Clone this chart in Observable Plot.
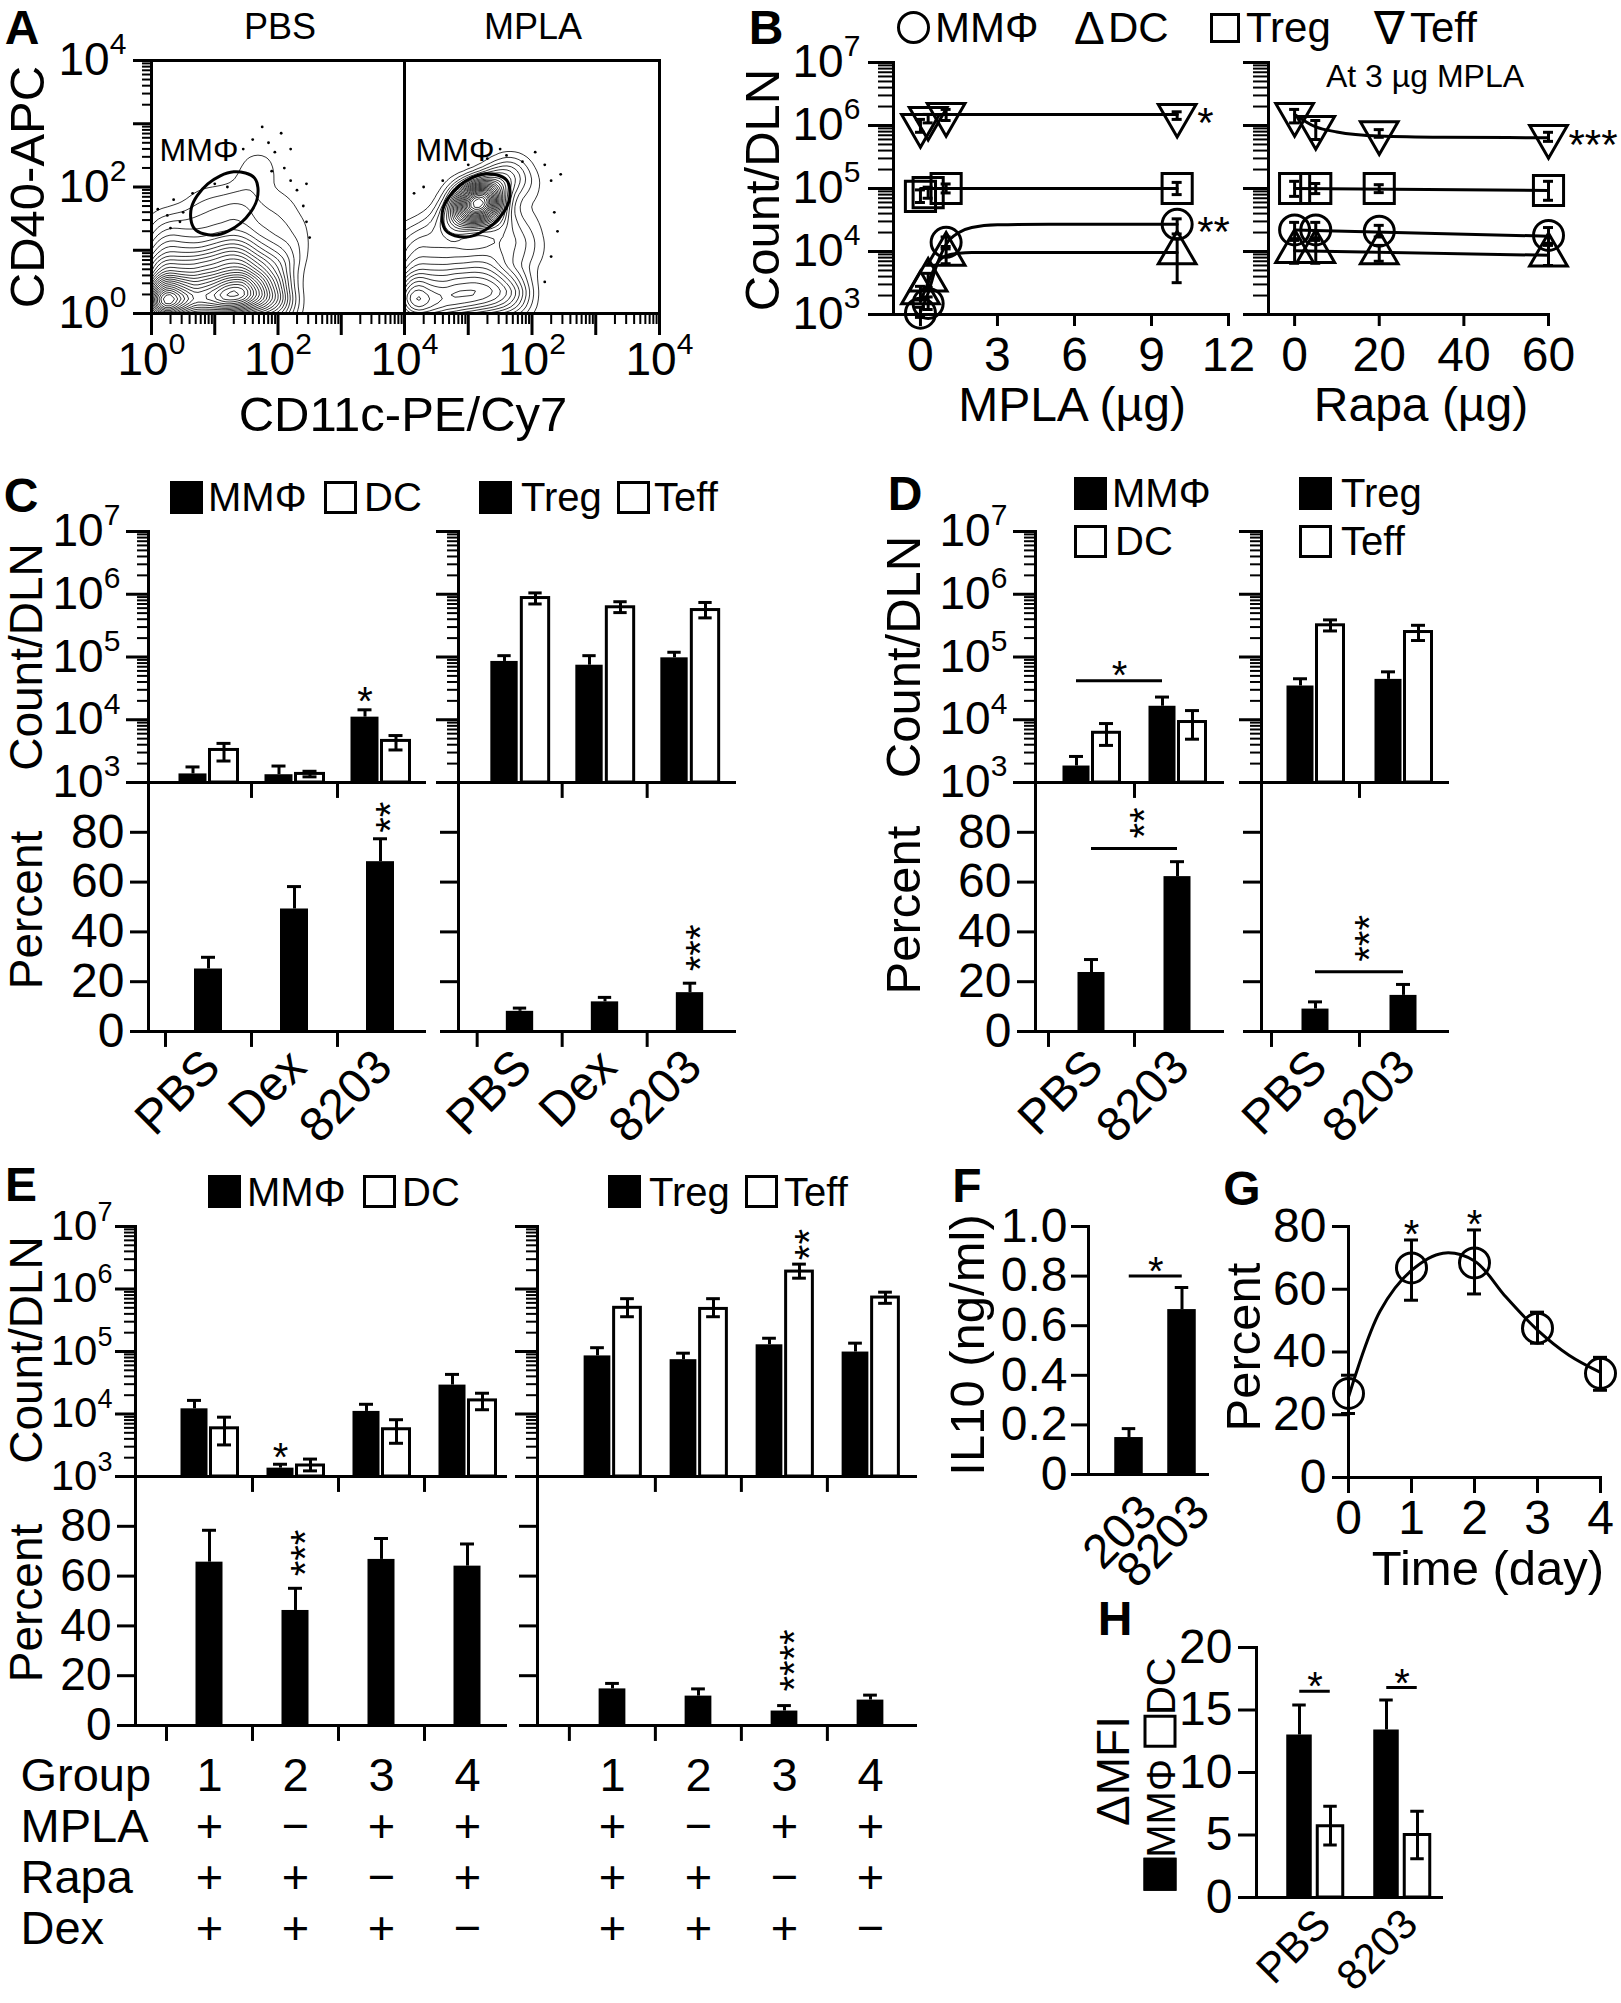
<!DOCTYPE html>
<html>
<head>
<meta charset="utf-8">
<script src="https://cdn.jsdelivr.net/npm/d3@7"></script>
<script src="https://cdn.jsdelivr.net/npm/@observablehq/plot@0.6"></script>
<style>
html,body{margin:0;padding:0;background:#fff;}
#fig{position:relative;width:1621px;height:2003px;overflow:hidden;background:#fff;font-family:"Liberation Sans",Arial,Helvetica,sans-serif;color:#000;}
#fig svg{position:absolute;overflow:visible;background:none;max-width:none;}
.t{position:absolute;line-height:0.75;white-space:nowrap;}
.sq{position:absolute;box-sizing:border-box;border:3px solid #000;}
.isq{display:inline-block;box-sizing:border-box;border:3px solid #000;width:33px;height:33px;vertical-align:-2px;}
</style>
</head>
<body>
<div id="fig"></div>
<script>
// ======================= DATA =======================
// Panel A: flow-cytometry event density (log10 CD11c, log10 CD40, relative weight)
const pbsEvents = [
  [0.1,0.1,10],[0.4,0.1,8],[0.8,0.1,8],[1.2,0.15,9],[1.6,0.15,6],[2.0,0.1,4],
  [0.15,0.35,8],[0.5,0.35,7],[0.9,0.4,7],[1.3,0.4,9],[1.6,0.4,6],[1.95,0.35,4],
  [0.1,0.7,5],[0.5,0.7,5],[0.9,0.75,5],[1.3,0.8,6],[1.65,0.75,4],[2.0,0.7,3],
  [0.15,1.05,3],[0.55,1.05,3],[1.0,1.1,3],[1.4,1.15,3],[1.8,1.1,2],[2.2,1.0,1.5],
  [0.2,1.4,1.5],[0.6,1.45,1.5],[1.0,1.5,1.5],[1.4,1.55,1.5],[1.9,1.5,1.2],[2.3,1.4,0.8],
  [0.8,1.8,0.8],[1.2,1.8,1],[1.6,1.75,0.8],[2.1,1.85,0.6],[1.7,2.3,1.2],[1.55,2.1,0.6]
];
const mplaEvents = [
  [0.1,0.1,8],[0.5,0.1,7],[0.9,0.15,6],[1.3,0.2,6],[1.7,0.2,4],
  [0.1,0.45,6],[0.5,0.5,5],[0.9,0.5,5],[1.3,0.55,5],[1.7,0.5,3],
  [0.1,0.85,3],[0.5,0.9,3],[0.9,0.9,3],[1.3,0.95,3],[1.7,1.0,2],[2.0,1.0,1],
  [0.1,1.2,1.5],[0.4,1.3,1.5],[0.8,1.35,2],[1.5,1.3,2],[1.9,1.4,1.2],
  [1.15,1.75,12],[1.0,1.6,6],[1.3,1.9,6],[0.9,1.8,3],[1.4,1.6,4],[1.5,2.1,3],
  [1.7,2.25,2],[1.9,2.0,1.2],[0.7,1.5,2]
];
const pbsOutliers = [[0.1,1.65],[0.25,1.55],[0.35,1.8],[0.5,1.6],[0.45,1.45],[0.65,1.9],[1.0,2.05],[1.2,2.0],
  [1.45,2.6],[1.6,2.75],[1.75,2.95],[1.85,2.7],[1.95,2.55],[2.05,2.85],[2.1,2.3],[2.2,2.1],[2.3,1.95],
  [2.4,1.7],[2.45,1.45],[2.5,1.2],[2.45,2.05],[1.9,2.25],[0.3,1.35],[2.2,2.6]];
const mplaOutliers = [[0.15,1.9],[0.3,2.0],[1.0,2.35],[1.3,2.45],[1.6,2.5],[1.85,2.4],[2.05,2.55],[2.2,2.35],
  [2.3,2.1],[2.35,1.6],[2.4,1.3],[2.3,0.9],[2.2,0.5],[2.45,2.2],[1.5,2.6],[0.6,2.1]];
const pbsGate = [[1.63,2.14],[1.30,2.24],[0.89,2.05],[0.63,1.67],[0.68,1.34],[1.00,1.24],[1.41,1.43],[1.67,1.81]];
const mplaGate = [[1.60,2.11],[1.27,2.21],[0.86,2.02],[0.60,1.64],[0.65,1.31],[0.97,1.21],[1.38,1.40],[1.64,1.78]];

// Panel B: counts per DLN vs MPLA dose
const mplaDose = [0, 0.3, 1, 10];
const bTeffL = [1.0e6, 1.3e6, 1.5e6, 1.45e6], bTeffLlo = [7.8e5, 1.1e6, 1.2e6, 1.25e6], bTeffLhi = [1.25e6, 1.5e6, 1.8e6, 1.65e6];
const bTregL = [7.5e4, 8.6e4, 1.0e5, 1.0e5], bTregLlo = [6e4, 7e4, 8.5e4, 8e4], bTregLhi = [9.5e4, 1.05e5, 1.18e5, 1.25e5];
const bMMphiL = [1.05e3, 1.5e3, 1.4e4, 2.7e4], bMMphiLlo = [9e2, 1.2e3, 1.1e4, 1.9e4], bMMphiLhi = [1.3e3, 1.9e3, 1.7e4, 3.3e4];
const bDCL = [2.2e3, 3.5e3, 9.0e3, 9.5e3], bDCLlo = [1.7e3, 2.7e3, 6.4e3, 3.2e3], bDCLhi = [2.8e3, 4.5e3, 1.2e4, 1.6e4];
const fitTeffL = [[0,1.5e6],[10,1.5e6]];
const fitTregL = [[0,1.0e5],[10,1.0e5]];
const fitMMphiL = [[0,1.1e3],[0.3,2.2e3],[0.6,5.5e3],[1,1.3e4],[1.5,2.0e4],[2,2.4e4],[3,2.65e4],[5,2.7e4],[10,2.7e4]];
const fitDCL = [[0,1.6e3],[0.3,3.2e3],[0.6,6e3],[1,8.6e3],[1.5,9.4e3],[2,9.6e3],[10,9.6e3]];
// Panel B: counts per DLN vs Rapa dose (at 3 ug MPLA)
const rapaDose = [0, 5, 20, 60];
const bTeffR = [1.5e6, 9.3e5, 7.7e5, 6.7e5], bTeffRlo = [1.1e6, 6e5, 6.5e5, 5.6e5], bTeffRhi = [1.8e6, 1.2e6, 8.6e5, 7.8e5];
const bTregR = [1.0e5, 1.0e5, 1.0e5, 9.3e4], bTregRlo = [7.5e4, 8.3e4, 8.6e4, 6.5e4], bTregRhi = [1.3e5, 1.2e5, 1.15e5, 1.3e5];
const bMMphiR = [2.2e4, 2.2e4, 2.1e4, 1.8e4], bMMphiRlo = [1.6e4, 1.65e4, 1.7e4, 1.35e4], bMMphiRhi = [2.9e4, 2.9e4, 2.6e4, 2.4e4];
const bDCR = [1.0e4, 1.0e4, 9.5e3, 8.8e3], bDCRlo = [6.5e3, 6.5e3, 7e3, 6e3], bDCRhi = [1.5e4, 1.5e4, 1.25e4, 1.25e4];
const fitTeffR = [[0,1.5e6],[5,9.5e5],[10,7.9e5],[20,6.8e5],[35,6.5e5],[60,6.4e5]];
const fitTregR = [[0,1.0e5],[60,9.3e4]];
const fitMMphiR = [[0,2.2e4],[60,1.75e4]];
const fitDCR = [[0,1.03e4],[60,8.7e3]];

// Panel C
const groupsC = ["PBS", "Dex", "8203"];
const cMMphi = [1.37e3, 1.33e3, 1.10e4], cMMphiHi = [1.77e3, 1.83e3, 1.44e4];
const cDC = [3.3e3, 1.37e3, 4.6e3], cDCLo = [2.2e3, 1.23e3, 3.3e3], cDCHi = [4.2e3, 1.51e3, 5.6e3];
const cTreg = [8.5e4, 7.4e4, 9.7e4], cTregHi = [1.05e5, 1.05e5, 1.19e5];
const cTeff = [8.7e5, 6.2e5, 5.6e5], cTeffLo = [7.0e5, 5.1e5, 4.2e5], cTeffHi = [1.05e6, 7.6e5, 7.4e5];
const cPctMMphi = [25.1, 49.2, 68.2], cPctMMphiHi = [29.8, 58.2, 77.4];
const cPctTreg = [8.1, 11.9, 15.6], cPctTregHi = [9.4, 13.7, 19.4];

// Panel D
const groupsD = ["PBS", "8203"];
const dMMphi = [1.83e3, 1.64e4], dMMphiHi = [2.6e3, 2.3e4];
const dDC = [6.2e3, 9.2e3], dDCLo = [3.9e3, 4.9e3], dDCHi = [8.7e3, 1.4e4];
const dTreg = [3.45e4, 4.4e4], dTregHi = [4.5e4, 5.8e4];
const dTeff = [3.2e5, 2.5e5], dTeffLo = [2.6e5, 1.83e5], dTeffHi = [3.9e5, 3.2e5];
const dPctMMphi = [23.7, 62.2], dPctMMphiHi = [28.9, 68.2];
const dPctTreg = [9.0, 14.5], dPctTregHi = [11.9, 18.9];

// Panel E
const groupsE = ["1", "2", "3", "4"];
const eMMphi = [1.21e4, 1.36e3, 1.10e4, 2.9e4], eMMphiHi = [1.65e4, 1.57e3, 1.43e4, 4.3e4];
const eDC = [5.9e3, 1.5e3, 5.7e3, 1.65e4], eDCLo = [3.2e3, 1.23e3, 3.4e3, 1.17e4], eDCHi = [8.9e3, 1.9e3, 8.1e3, 2.15e4];
const eTreg = [8.5e4, 7.4e4, 1.28e5, 9.8e4], eTregHi = [1.15e5, 9.4e4, 1.63e5, 1.36e5];
const eTeff = [5.0e5, 4.8e5, 1.9e6, 7.3e5], eTeffLo = [3.6e5, 3.6e5, 1.49e6, 5.9e5], eTeffHi = [7.0e5, 7.0e5, 2.5e6, 8.9e5];
const ePctMMphi = [65.6, 46.2, 66.7, 64.0], ePctMMphiHi = [78.4, 55.1, 75.1, 72.9];
const ePctTreg = [14.7, 11.8, 5.8, 10.2], ePctTregHi = [16.9, 14.7, 8.0, 12.2];
const tableRows = ["Group", "MPLA", "Rapa", "Dex"];
const eMPLA = ["+", "\u2212", "+", "+"];
const eRapa = ["+", "+", "\u2212", "+"];
const eDex = ["+", "+", "+", "\u2212"];

// Panel F
const groupsF = ["203", "8203"];
const fIL10 = [0.149, 0.665], fIL10Hi = [0.185, 0.754];

// Panel G
const gDays = [0, 1, 2, 3, 4];
const gPct = [26.8, 66.8, 68.4, 47.6, 33.2], gLo = [20.4, 56.5, 58.5, 42.8, 27.8], gHi = [32.6, 75.7, 78.9, 52.7, 38.3];
const gFit = [[0,25.6],[0.5,53],[1,66],[1.5,71.5],[2,69],[2.5,57.5],[3,47],[3.5,39],[4,33.5]];

// Panel H
const groupsH = ["PBS", "8203"];
const hMMphi = [13.0, 13.4], hMMphiHi = [15.4, 15.8];
const hDC = [5.7, 5.0], hDCLo = [4.2, 3.1], hDCHi = [7.3, 6.9];

// Tick values
const logMajor = [1e3, 1e4, 1e5, 1e6, 1e7];
const logMinor = [3, 4, 5, 6].flatMap(e => [2, 3, 4, 5, 6, 7, 8, 9].map(k => k * 10 ** e));
const decA = [0, 1, 2, 3, 4];
const minorA = [0, 1, 2, 3].flatMap(e => [2, 3, 4, 5, 6, 7, 8, 9].map(k => e + Math.log10(k)));
const pctTicks = [0, 20, 40, 60, 80];

// ======================= HELPERS =======================
const fig = document.getElementById("fig");
const FONT = '"Liberation Sans", Arial, Helvetica, sans-serif';
const SERIF = '"Liberation Serif", "Times New Roman", serif';
const PHI = `<span style="font-family:${SERIF}">\u03A6</span>`;
const none = () => "";
const lg = d => Math.round(Math.log10(d));

function mk([x0, y0, x1, y1], opts) {
  const svg = Plot.plot({
    width: x1 - x0, height: y1 - y0,
    marginLeft: 0, marginRight: 0, marginTop: 0, marginBottom: 0,
    style: {fontFamily: FONT, fontSize: "46px", color: "black", background: "none", overflow: "visible"},
    ...opts
  });
  svg.style.left = x0 + "px";
  svg.style.top = y0 + "px";
  fig.appendChild(svg);
  return svg;
}
function axY(ticks, size, fmt, o = {}) {
  return Plot.axisY({ticks, tickSize: size, tickPadding: o.pad ?? 8, tickFormat: fmt || none,
    strokeWidth: o.sw ?? 3, fontSize: o.fs ?? 48, label: null});
}
function axX(ticks, size, fmt, o = {}) {
  return Plot.axisX({ticks, tickSize: size, tickPadding: o.pad ?? 8, tickFormat: fmt || none,
    strokeWidth: o.sw ?? 3, fontSize: o.fs ?? 48, label: null});
}
// "10" with raised exponent, right-aligned at `off` px left of the y axis
function powY(ticks, expOf, off, fs = 46, efs = 30) {
  return [
    Plot.text(ticks, {y: d => d, text: () => "10", frameAnchor: "left", textAnchor: "end", lineAnchor: "middle", dx: -(off + efs * 0.56), fontSize: fs}),
    Plot.text(ticks, {y: d => d, text: d => String(expOf(d)), frameAnchor: "left", textAnchor: "end", lineAnchor: "middle", dx: -off, dy: -fs * 0.34, fontSize: efs})
  ];
}
// "10" with raised exponent, centred under x ticks
function powX(ticks, off, fs = 46, efs = 30) {
  const ew = efs * 0.56, half = (fs * 1.112 + ew) / 2;
  return [
    Plot.text(ticks, {x: d => d, text: () => "10", frameAnchor: "bottom", textAnchor: "end", lineAnchor: "middle", dx: half - ew, dy: off, fontSize: fs}),
    Plot.text(ticks, {x: d => d, text: d => String(d), frameAnchor: "bottom", textAnchor: "start", lineAnchor: "middle", dx: half - ew, dy: off - fs * 0.34, fontSize: efs})
  ];
}
function T(html, x, y, {size = 48, weight = "normal", rot = 0, anchor = "middle", family} = {}) {
  const d = document.createElement("div");
  d.className = "t";
  d.innerHTML = html;
  d.style.left = x + "px"; d.style.top = y + "px";
  d.style.fontSize = size + "px"; d.style.fontWeight = weight;
  if (family) d.style.fontFamily = family;
  const tx = anchor === "start" ? "0%" : anchor === "end" ? "-100%" : "-50%";
  d.style.transformOrigin = anchor === "start" ? "0% 50%" : anchor === "end" ? "100% 50%" : "50% 50%";
  d.style.transform = `translate(${tx}, -50%) rotate(${rot}deg)`;
  fig.appendChild(d);
}
function SQ(x, y, filled, s = 33, round = false) {
  const d = document.createElement("div");
  d.className = "sq";
  d.style.left = x + "px"; d.style.top = y + "px"; d.style.width = s + "px"; d.style.height = s + "px";
  d.style.background = filled ? "#000" : "#fff";
  if (round) d.style.borderRadius = "50%";
  fig.appendChild(d);
}
const starH = (rows, o) => Plot.text(rows, {text: "s", fontSize: 40, lineAnchor: "bottom", dy: 5, ...o});
const starV = (rows, o) => Plot.text(rows, {text: "s", fontSize: 40, rotate: -90, textAnchor: "start", lineAnchor: "middle", ...o, dx: (o.dx ?? 0) + 11});

const LOGY = {type: "log", domain: [1e3, 1e7]};
const PCTY = {domain: [0, 100]};

// grouped black/white bars
function grouped({frame, band, groups, y, major, minor, fmt, kv, kHi, wv, wLo, wHi, bw = 28, gap = 1.5, extra, majorSize = 22, pad = 6, efs = 30, fs = 46}) {
  const x0 = frame[0];
  const step = (band[1] - band[0]) / groups.length;
  const base = y.type === "log" ? y.domain[0] : 0;
  const rows = groups.map((g, i) => ({g, k: kv[i], kHi: kHi[i], w: wv[i], wLo: wLo[i], wHi: wHi[i]}));
  const kc = -(bw / 2 + gap), wc = bw / 2 + gap;
  const cap = c => ({insetLeft: step / 2 + c - 7, insetRight: step / 2 - c - 7});
  const marks = [
    Plot.barY(rows, {x: "g", y1: base, y2: "k", fill: "black", insetLeft: step / 2 - bw - gap, insetRight: step / 2 + gap}),
    Plot.barY(rows, {x: "g", y1: base, y2: "w", fill: "white", stroke: "black", strokeWidth: 3, insetLeft: step / 2 + gap, insetRight: step / 2 - bw - gap}),
    Plot.ruleX(rows, {x: "g", y1: "k", y2: "kHi", dx: kc, strokeWidth: 3}),
    Plot.tickY(rows, {x: "g", y: "kHi", strokeWidth: 3, ...cap(kc)}),
    Plot.ruleX(rows, {x: "g", y1: "wLo", y2: "wHi", dx: wc, strokeWidth: 3}),
    Plot.tickY(rows, {x: "g", y: "wHi", strokeWidth: 3, ...cap(wc)}),
    Plot.tickY(rows, {x: "g", y: "wLo", strokeWidth: 3, ...cap(wc)})
  ];
  if (minor) marks.push(axY(minor, 11, none, {sw: 2}));
  if (fmt === "pow") {
    marks.push(axY(major, majorSize, none), ...powY(major, lg, majorSize + pad, fs, efs));
  } else {
    marks.push(axY(major, majorSize, fmt, {pad}));
  }
  marks.push(Plot.frame({anchor: "left", strokeWidth: 3}), Plot.frame({anchor: "bottom", strokeWidth: 3}));
  if (extra) marks.push(...extra(step, kc, wc));
  return mk(frame, {
    x: {type: "band", domain: groups, range: [band[0] - x0, band[1] - x0], padding: 0, axis: null, label: null},
    y: {...y, label: null},
    marks
  });
}
// single black bars (percent etc.)
function single({frame, band, groups, y = PCTY, ticks = pctTicks, fmt, v, vHi, bw = 28, xLabels = false, topTicks = true, bottomTicks = true, extra, tickSize = 18, pad = 6, tickUnits = 6.4, xl = {}, fs = 48}) {
  const x0 = frame[0];
  const step = (band[1] - band[0]) / groups.length;
  const rows = groups.map((g, i) => ({g, v: v[i], hi: vHi[i]}));
  const top = y.domain[1];
  const marks = [
    Plot.barY(rows, {x: "g", y: "v", fill: "black", insetLeft: step / 2 - bw / 2, insetRight: step / 2 - bw / 2}),
    Plot.ruleX(rows, {x: "g", y1: "v", y2: "hi", strokeWidth: 3}),
    Plot.tickY(rows, {x: "g", y: "hi", strokeWidth: 3, insetLeft: step / 2 - 7, insetRight: step / 2 - 7}),
    axY(ticks, tickSize, fmt, {pad, fs}),
    Plot.frame({anchor: "left", strokeWidth: 3}),
    Plot.frame({anchor: "bottom", strokeWidth: 3})
  ];
  if (bottomTicks) marks.push(Plot.ruleX(groups, {x: d => d, dx: -step / 2, y1: 0, y2: -tickUnits, strokeWidth: 3}));
  if (topTicks) marks.push(Plot.ruleX(groups.slice(1), {x: d => d, dx: -step / 2, y1: top, y2: top - tickUnits, strokeWidth: 3}));
  if (xLabels) marks.push(Plot.text(groups, {x: d => d, text: d => d, frameAnchor: "bottom", rotate: -45,
    textAnchor: "end", lineAnchor: "top", dx: xl.dx ?? -10, dy: xl.dy ?? 14, fontSize: xl.fs ?? 48}));
  if (extra) marks.push(...extra(step));
  return mk(frame, {
    x: {type: "band", domain: groups, range: [band[0] - x0, band[1] - x0], padding: 0, axis: null, label: null},
    y: {...y, label: null},
    marks
  });
}

// ======================= PANEL A =======================
function flowPanel(frame, events, outliers, gate, labelTicks, showY) {
  const marks = [
    Plot.density(events, {x: d => d[0], y: d => d[1], weight: d => d[2], bandwidth: 11, thresholds: 26, stroke: "black", strokeWidth: 0.8, clip: true}),
    Plot.dot(outliers, {x: d => d[0], y: d => d[1], r: 1.4, fill: "black"}),
    Plot.line(gate, {x: d => d[0], y: d => d[1], curve: "catmull-rom-closed", stroke: "black", strokeWidth: 3}),
    Plot.frame({strokeWidth: 3}),
    axX(minorA, 11, none, {sw: 2}),
    axX(decA, 22, none),
    ...powX(labelTicks, 47)
  ];
  if (showY) marks.push(axY(minorA, 9, none, {sw: 2}), axY(decA, 18, none), ...powY([0, 2, 4], d => d, 25));
  return mk(frame, {x: {domain: [0, 4], label: null}, y: {domain: [0, 4], label: null, axis: showY ? undefined : null}, marks});
}
flowPanel([151, 60, 404, 313], pbsEvents, pbsOutliers, pbsGate, [0, 2, 4], true);
flowPanel([404, 60, 659, 313], mplaEvents, mplaOutliers, mplaGate, [2, 4], false);
T("A", 22, 28, {weight: "bold"});
T("PBS", 280, 26, {size: 36});
T("MPLA", 533, 26, {size: 36});
T("CD40-APC", 27, 187, {rot: -90, size: 49});
T("CD11c-PE/Cy7", 403, 414, {size: 49});
T("MM" + PHI, 199, 150, {size: 32});
T("MM" + PHI, 455, 150, {size: 32});

// ======================= PANEL B =======================
const triDown = {draw(ctx, size) {
  const y = -Math.sqrt(size / (Math.sqrt(3) * 3));
  ctx.moveTo(0, -y * 2); ctx.lineTo(-Math.sqrt(3) * y, y); ctx.lineTo(Math.sqrt(3) * y, y); ctx.closePath();
}};
function seriesMarks(xs, m, lo, hi, fit, symbol, r) {
  const rows = xs.map((x, i) => ({x, m: m[i], lo: lo[i], hi: hi[i]}));
  return [
    Plot.line(fit, {x: d => d[0], y: d => d[1], curve: "monotone-x", strokeWidth: 3}),
    Plot.ruleX(rows, {x: "x", y1: "lo", y2: "hi", strokeWidth: 3}),
    Plot.ruleY(rows, {y: "lo", x1: "x", x2: "x", insetLeft: -5, insetRight: -5, strokeWidth: 3}),
    Plot.ruleY(rows, {y: "hi", x1: "x", x2: "x", insetLeft: -5, insetRight: -5, strokeWidth: 3}),
    Plot.dot(rows, {x: "x", y: "m", symbol, r, stroke: "black", strokeWidth: 3, fill: "none"})
  ];
}
mk([893, 62, 1228, 314], {
  x: {domain: [-1.05, 12], label: null}, y: {...LOGY, label: null},
  marks: [
    ...seriesMarks(mplaDose, bTeffL, bTeffLlo, bTeffLhi, fitTeffL, triDown, 14),
    ...seriesMarks(mplaDose, bTregL, bTregLlo, bTregLhi, fitTregL, "square", 17),
    ...seriesMarks(mplaDose, bMMphiL, bMMphiLlo, bMMphiLhi, fitMMphiL, "circle", 15),
    ...seriesMarks(mplaDose, bDCL, bDCLlo, bDCLhi, fitDCL, "triangle", 14),
    Plot.text([{x: 10, y: bTeffL[3], s: "*"}, {x: 10, y: bMMphiL[3], s: "**"}], {x: "x", y: "y", text: "s", fontSize: 42, textAnchor: "start", dx: 20, dy: 8}),
    axY(logMinor, 15, none, {sw: 2}),
    axY(logMajor, 25, none),
    ...powY(logMajor, lg, 33),
    axX([0, 3, 6, 9, 12], 12, d => d, {pad: 10}),
    Plot.frame({anchor: "left", strokeWidth: 3}), Plot.frame({anchor: "bottom", strokeWidth: 3})
  ]
});
mk([1268, 62, 1548, 314], {
  x: {domain: [-6.17, 60], label: null}, y: {...LOGY, label: null},
  marks: [
    ...seriesMarks(rapaDose, bTeffR, bTeffRlo, bTeffRhi, fitTeffR, triDown, 14),
    ...seriesMarks(rapaDose, bTregR, bTregRlo, bTregRhi, fitTregR, "square", 17),
    ...seriesMarks(rapaDose, bMMphiR, bMMphiRlo, bMMphiRhi, fitMMphiR, "circle", 15),
    ...seriesMarks(rapaDose, bDCR, bDCRlo, bDCRhi, fitDCR, "triangle", 14),
    Plot.text([{x: 60, y: bTeffR[3], s: "***"}], {x: "x", y: "y", text: "s", fontSize: 42, textAnchor: "start", dx: 20, dy: 9}),
    axY(logMinor, 15, none, {sw: 2}),
    axY(logMajor, 25, none),
    axX([0, 20, 40, 60], 12, d => d, {pad: 10}),
    Plot.frame({anchor: "left", strokeWidth: 3}), Plot.frame({anchor: "bottom", strokeWidth: 3})
  ]
});
T("B", 766, 28, {weight: "bold"});
SQ(897, 11, false, 33, true);
T("MM" + PHI, 935, 28, {size: 42, anchor: "start"});
T("\u0394", 1074, 28, {size: 46, anchor: "start"});
T("DC", 1108, 28, {size: 42, anchor: "start"});
SQ(1210, 13, false, 30);
T("Treg", 1246, 28, {size: 42, anchor: "start"});
T("\u2207", 1374, 28, {size: 46, anchor: "start"});
T("Teff", 1410, 28, {size: 42, anchor: "start"});
T("At 3 \u00B5g MPLA", 1425, 76, {size: 32});
T("Count/DLN", 762, 190, {rot: -90, size: 49});
T("MPLA (\u00B5g)", 1072, 405, {size: 48});
T("Rapa (\u00B5g)", 1421, 405, {size: 48});

// ======================= PANEL C =======================
const bandCL = [165, 423], bandCR = [476, 733];
grouped({frame: [148, 531, 424, 782], band: bandCL, groups: groupsC, y: LOGY, major: logMajor, minor: logMinor, fmt: "pow",
  kv: cMMphi, kHi: cMMphiHi, wv: cDC, wLo: cDCLo, wHi: cDCHi,
  extra: (step, kc) => [starH([{g: "8203", y: cMMphiHi[2], s: "*"}], {x: "g", y: "y", dx: kc})]});
grouped({frame: [458, 531, 734, 782], band: bandCR, groups: groupsC, y: LOGY, major: logMajor, minor: logMinor, fmt: none,
  kv: cTreg, kHi: cTregHi, wv: cTeff, wLo: cTeffLo, wHi: cTeffHi});
single({frame: [148, 782, 424, 1031], band: bandCL, groups: groupsC, fmt: d => d, v: cPctMMphi, vHi: cPctMMphiHi, xLabels: true,
  extra: () => [starV([{g: "8203", y: cPctMMphiHi[2], s: "**"}], {x: "g", y: "y", dy: -6})]});
single({frame: [458, 782, 734, 1031], band: bandCR, groups: groupsC, fmt: none, v: cPctTreg, vHi: cPctTregHi, xLabels: true,
  extra: () => [starV([{g: "8203", y: cPctTregHi[2], s: "***"}], {x: "g", y: "y", dy: -12})]});
T("C", 21, 496, {weight: "bold"});
SQ(170, 481, true); T("MM" + PHI, 208, 497, {size: 40, anchor: "start"});
SQ(324, 481, false); T("DC", 364, 497, {size: 40, anchor: "start"});
SQ(479, 481, true); T("Treg", 521, 497, {size: 40, anchor: "start"});
SQ(617, 481, false); T("Teff", 654, 497, {size: 40, anchor: "start"});
T("Count/DLN", 26, 657, {rot: -90, size: 46});
T("Percent", 26, 910, {rot: -90, size: 46});

// ======================= PANEL D =======================
const bandDL = [1048, 1220], bandDR = [1271, 1447];
grouped({frame: [1035, 531, 1222, 782], band: bandDL, groups: groupsD, y: LOGY, major: logMajor, minor: logMinor, fmt: "pow",
  kv: dMMphi, kHi: dMMphiHi, wv: dDC, wLo: dDCLo, wHi: dDCHi, bw: 27,
  extra: (step, kc) => [
    Plot.tickY([{g: "PBS", y: 4.2e4}], {x: "g", y: "y", strokeWidth: 3, insetLeft: step / 2 + kc, insetRight: -step / 2 - kc}),
    starH([{g: "PBS", y: 4.2e4, s: "*"}], {x: "g", y: "y", dx: step / 2 + kc, dy: 8})
  ]});
grouped({frame: [1261, 531, 1447, 782], band: bandDR, groups: groupsD, y: LOGY, major: logMajor, minor: logMinor, fmt: none,
  kv: dTreg, kHi: dTregHi, wv: dTeff, wLo: dTeffLo, wHi: dTeffHi, bw: 27});
single({frame: [1035, 782, 1222, 1031], band: bandDL, groups: groupsD, fmt: d => d, v: dPctMMphi, vHi: dPctMMphiHi, xLabels: true, bw: 27,
  extra: step => [
    Plot.tickY([{g: "PBS", y: 73.5}], {x: "g", y: "y", strokeWidth: 3, insetLeft: step / 2, insetRight: -step / 2}),
    starV([{g: "PBS", y: 73.5, s: "**"}], {x: "g", y: "y", dx: step / 2, dy: -10})
  ]});
single({frame: [1261, 782, 1447, 1031], band: bandDR, groups: groupsD, fmt: none, v: dPctTreg, vHi: dPctTregHi, xLabels: true, bw: 27,
  extra: step => [
    Plot.tickY([{g: "PBS", y: 24}], {x: "g", y: "y", strokeWidth: 3, insetLeft: step / 2, insetRight: -step / 2}),
    starV([{g: "PBS", y: 24, s: "***"}], {x: "g", y: "y", dx: step / 2, dy: -10})
  ]});
T("D", 905, 494, {weight: "bold"});
SQ(1074, 477, true); T("MM" + PHI, 1112, 493, {size: 40, anchor: "start"});
SQ(1074, 525, false); T("DC", 1115, 541, {size: 40, anchor: "start"});
SQ(1299, 477, true); T("Treg", 1341, 493, {size: 40, anchor: "start"});
SQ(1299, 525, false); T("Teff", 1341, 541, {size: 40, anchor: "start"});
T("Count/DLN", 903, 657, {rot: -90, size: 49});
T("Percent", 903, 910, {rot: -90, size: 49});

// ======================= PANEL E =======================
const bandEL = [166, 510], bandER = [568, 913];
grouped({frame: [135, 1226, 505, 1476], band: bandEL, groups: groupsE, y: LOGY, major: logMajor, minor: logMinor, fmt: "pow",
  kv: eMMphi, kHi: eMMphiHi, wv: eDC, wLo: eDCLo, wHi: eDCHi, bw: 27, majorSize: 20, pad: 3, fs: 42, efs: 27,
  extra: (step, kc) => [starH([{g: "2", y: eMMphiHi[1], s: "*"}], {x: "g", y: "y", dx: kc, dy: 7})]});
grouped({frame: [537, 1226, 915, 1476], band: bandER, groups: groupsE, y: LOGY, major: logMajor, minor: logMinor, fmt: none,
  kv: eTreg, kHi: eTregHi, wv: eTeff, wLo: eTeffLo, wHi: eTeffHi, bw: 27,
  extra: (step, kc, wc) => [starV([{g: "3", y: eTeffHi[2], s: "**"}], {x: "g", y: "y", dx: wc, dy: -4})]});
single({frame: [135, 1476, 505, 1725], band: bandEL, groups: groupsE, fmt: d => d, v: ePctMMphi, vHi: ePctMMphiHi, bw: 27, fs: 46,
  extra: () => [starV([{g: "2", y: ePctMMphiHi[1], s: "***"}], {x: "g", y: "y", dy: -12})]});
single({frame: [537, 1476, 915, 1725], band: bandER, groups: groupsE, fmt: none, v: ePctTreg, vHi: ePctTregHi, bw: 27,
  extra: () => [starV([{g: "3", y: ePctTregHi[2], s: "****"}], {x: "g", y: "y", dy: -14})]});
function table(frame, band, showNames) {
  const [x0, y0] = frame;
  const cells = groupsE.flatMap((g, i) => [
    {g, r: "Group", v: g}, {g, r: "MPLA", v: eMPLA[i]}, {g, r: "Rapa", v: eRapa[i]}, {g, r: "Dex", v: eDex[i]}]);
  const marks = [Plot.text(cells, {x: "g", y: "r", text: "v", fontSize: 47})];
  if (showNames) marks.push(Plot.text(tableRows, {y: d => d, text: d => d, frameAnchor: "left", textAnchor: "start", fontSize: 47}));
  return mk(frame, {
    x: {type: "band", domain: groupsE, range: [band[0] - x0, band[1] - x0], padding: 0, axis: null, label: null},
    y: {type: "point", domain: tableRows, range: [1774 - y0, 1928 - y0], padding: 0, axis: null, label: null},
    marks
  });
}
table([20, 1745, 510, 1950], bandEL, true);
table([540, 1745, 913, 1950], bandER, false);
T("E", 21, 1185, {weight: "bold"});
SQ(208, 1175, true); T("MM" + PHI, 247, 1192, {size: 40, anchor: "start"});
SQ(363, 1175, false); T("DC", 402, 1192, {size: 40, anchor: "start"});
SQ(608, 1175, true); T("Treg", 649, 1192, {size: 40, anchor: "start"});
SQ(745, 1175, false); T("Teff", 784, 1192, {size: 40, anchor: "start"});
T("Count/DLN", 26, 1350, {rot: -90, size: 46});
T("Percent", 26, 1603, {rot: -90, size: 46});

// ======================= PANEL F =======================
single({frame: [1088, 1226, 1207, 1474], band: [1101, 1208], groups: groupsF, y: {domain: [0, 1]}, ticks: [0, 0.2, 0.4, 0.6, 0.8, 1.0],
  fmt: d => d === 0 ? "0" : d.toFixed(1), v: fIL10, vHi: fIL10Hi, bw: 29, xLabels: true, topTicks: false, bottomTicks: false,
  tickSize: 17, pad: 4, xl: {dx: 6, dy: 16},
  extra: step => [
    Plot.tickY([{g: "203", y: 0.8}], {x: "g", y: "y", strokeWidth: 3, insetLeft: step / 2, insetRight: -step / 2}),
    starH([{g: "203", y: 0.8, s: "*"}], {x: "g", y: "y", dx: step / 2, dy: 9})
  ]});
T("F", 967, 1186, {weight: "bold"});
T("IL10 (ng/ml)", 967, 1345, {rot: -90, size: 49});

// ======================= PANEL G =======================
{
  const rows = gDays.map((d, i) => ({d, m: gPct[i], lo: gLo[i], hi: gHi[i]}));
  mk([1348, 1226, 1600, 1477], {
    x: {domain: [0, 4], label: null}, y: {domain: [0, 80], label: null},
    marks: [
      Plot.line(gFit, {x: d => d[0], y: d => d[1], curve: "catmull-rom", strokeWidth: 3}),
      Plot.ruleX(rows, {x: "d", y1: "lo", y2: "hi", strokeWidth: 3}),
      Plot.ruleY(rows, {y: "lo", x1: "d", x2: "d", insetLeft: -7, insetRight: -7, strokeWidth: 3}),
      Plot.ruleY(rows, {y: "hi", x1: "d", x2: "d", insetLeft: -7, insetRight: -7, strokeWidth: 3}),
      Plot.dot(rows, {x: "d", y: "m", r: 15, stroke: "black", strokeWidth: 3, fill: "none"}),
      starH([{d: 1, y: gHi[1], s: "*"}, {d: 2, y: gHi[2], s: "*"}], {x: "d", y: "y", dy: 8}),
      axY(pctTicks, 16, d => d, {pad: 6}),
      axX(gDays, 16, d => d, {pad: 6}),
      Plot.frame({anchor: "left", strokeWidth: 3}), Plot.frame({anchor: "bottom", strokeWidth: 3})
    ]
  });
}
T("G", 1242, 1189, {weight: "bold"});
T("Percent", 1243, 1347, {rot: -90, size: 49});
T("Time (day)", 1488, 1568, {size: 49});

// ======================= PANEL H =======================
grouped({frame: [1256, 1647, 1441, 1897], band: [1270, 1445], groups: groupsH, y: {domain: [0, 20]}, major: [0, 5, 10, 15, 20], fmt: d => d,
  kv: hMMphi, kHi: hMMphiHi, wv: hDC, wLo: hDCLo, wHi: hDCHi, bw: 26, gap: 2.5, majorSize: 18, pad: 6,
  extra: (step, kc, wc) => [
    Plot.tickY([{g: "PBS", y: 16.5}, {g: "8203", y: 16.8}], {x: "g", y: "y", strokeWidth: 3, insetLeft: step / 2 + kc, insetRight: step / 2 - wc}),
    starH([{g: "PBS", y: 16.5, s: "*"}, {g: "8203", y: 16.8, s: "*"}], {x: "g", y: "y", dy: 9}),
    Plot.text(groupsH, {x: d => d, text: d => d, frameAnchor: "bottom", rotate: -45, textAnchor: "end", lineAnchor: "top", dx: -3, dy: 8, fontSize: 42})
  ]});
T("H", 1115, 1619, {weight: "bold"});
T("\u0394MFI", 1113, 1771, {rot: -90, size: 46});
T(`<span class="isq" style="background:#000"></span>MM${PHI} <span class="isq" style="background:#fff"></span>DC`, 1160, 1774, {rot: -90, size: 40});
</script>
</body>
</html>
